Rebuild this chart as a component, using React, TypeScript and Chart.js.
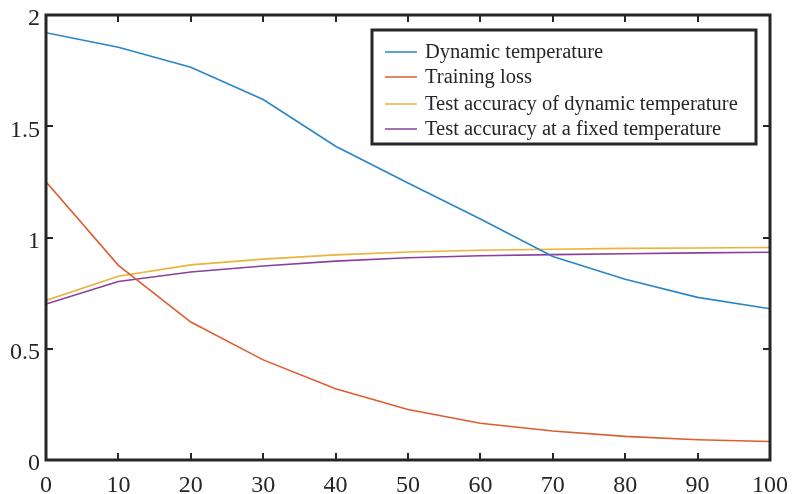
import { useEffect, useRef } from 'react';
import { Chart, registerables } from 'chart.js';

Chart.register(...registerables);

const epochs = [0, 10, 20, 30, 40, 50, 60, 70, 80, 90, 100];
const dynamicTemperature = [1.92, 1.855, 1.765, 1.62, 1.41, 1.245, 1.083, 0.915, 0.812, 0.731, 0.68];
const trainingLoss = [1.25, 0.875, 0.62, 0.45, 0.32, 0.227, 0.165, 0.13, 0.106, 0.091, 0.083];
const accDynamic = [0.717, 0.826, 0.877, 0.903, 0.922, 0.935, 0.943, 0.947, 0.951, 0.953, 0.955];
const accFixed = [0.701, 0.802, 0.845, 0.872, 0.894, 0.909, 0.918, 0.923, 0.927, 0.931, 0.934];

const seriesLabels = [
  'Dynamic temperature',
  'Training loss',
  'Test accuracy of dynamic temperature',
  'Test accuracy at a fixed temperature',
];
const seriesColors = ['#2a85c6', '#dc5e30', '#ecb33a', '#8a3f9c'];
const yTicks = [0, 0.5, 1, 1.5, 2];

const FONT = '"Liberation Serif", "Times New Roman", serif';
const INK = '#262626';

const framePlugin = {
  id: 'frame',
  afterDatasetsDraw(chart: any) {
    const { ctx, chartArea: a, scales } = chart;
    ctx.save();
    ctx.strokeStyle = INK;
    ctx.lineWidth = 2;
    const tl = 7;
    scales.x.ticks.forEach((t: any) => {
      const px = Math.round(scales.x.getPixelForValue(t.value));
      ctx.beginPath();
      ctx.moveTo(px, a.bottom);
      ctx.lineTo(px, a.bottom - tl);
      ctx.moveTo(px, a.top);
      ctx.lineTo(px, a.top + tl);
      ctx.stroke();
    });
    scales.y.ticks.forEach((t: any) => {
      const py = Math.round(scales.y.getPixelForValue(t.value));
      ctx.beginPath();
      ctx.moveTo(a.left, py);
      ctx.lineTo(a.left + tl, py);
      ctx.moveTo(a.right, py);
      ctx.lineTo(a.right - tl, py);
      ctx.stroke();
    });
    ctx.lineWidth = 3;
    ctx.strokeRect(a.left, a.top, a.right - a.left, a.bottom - a.top);
    ctx.restore();
  },
  afterDraw(chart: any) {
    const { ctx } = chart;
    const bx = 372, by = 30, bw = 384, bh = 114;
    ctx.save();
    ctx.fillStyle = '#ffffff';
    ctx.fillRect(bx, by, bw, bh);
    ctx.strokeStyle = INK;
    ctx.lineWidth = 3;
    ctx.strokeRect(bx, by, bw, bh);
    const rows = [52, 77, 104, 129];
    ctx.font = `20.5px ${FONT}`;
    ctx.textBaseline = 'middle';
    ctx.textAlign = 'left';
    chart.data.datasets.forEach((ds: any, i: number) => {
      const y = rows[i];
      ctx.strokeStyle = ds.borderColor;
      ctx.lineWidth = 1.5;
      ctx.beginPath();
      ctx.moveTo(385, y);
      ctx.lineTo(417, y);
      ctx.stroke();
      ctx.fillStyle = INK;
      ctx.fillText(ds.label, 425, y + 1);
    });
    ctx.restore();
  },
};

export default function App() {
  const ref = useRef<HTMLCanvasElement | null>(null);
  useEffect(() => {
    document.body.style.margin = '0';
    const series = [dynamicTemperature, trainingLoss, accDynamic, accFixed];
    const chart = new Chart(ref.current as HTMLCanvasElement, {
      type: 'line',
      data: {
        datasets: series.map((vals, i) => ({
          label: seriesLabels[i],
          data: epochs.map((x, j) => ({ x, y: vals[j] })),
          borderColor: seriesColors[i],
          backgroundColor: seriesColors[i],
          borderWidth: 1.6,
          pointRadius: 0,
          tension: 0,
          fill: false,
        })),
      },
      options: {
        animation: false,
        responsive: false,
        layout: { padding: { top: 15, right: 22, left: 0, bottom: 0 } },
        plugins: { legend: { display: false }, tooltip: { enabled: false } },
        scales: {
          x: {
            type: 'linear',
            min: 0,
            max: 100,
            afterFit: (s: any) => {
              s.height = 34;
              s.paddingLeft = 0;
              s.paddingRight = 0;
            },
            afterBuildTicks: (s: any) => { s.ticks = epochs.map((v) => ({ value: v })); },
            grid: { display: false, drawTicks: false },
            border: { display: false },
            ticks: { color: INK, font: { family: FONT, size: 24 }, padding: 11, maxRotation: 0 },
          },
          y: {
            type: 'linear',
            min: 0,
            max: 2,
            afterFit: (s: any) => {
              s.width = 46;
              s.paddingTop = 0;
              s.paddingBottom = 0;
            },
            afterBuildTicks: (s: any) => { s.ticks = yTicks.map((v) => ({ value: v })); },
            grid: { display: false, drawTicks: false },
            border: { display: false },
            ticks: {
              color: INK,
              font: { family: FONT, size: 24 },
              padding: 6,
              labelOffset: 4,
              callback: (v: any) => String(v),
            },
          },
        },
      },
      plugins: [framePlugin],
    });
    return () => chart.destroy();
  }, []);
  return (
    <div style={{ width: 792, height: 494 }}>
      <canvas ref={ref} width={792} height={494} />
    </div>
  );
}
